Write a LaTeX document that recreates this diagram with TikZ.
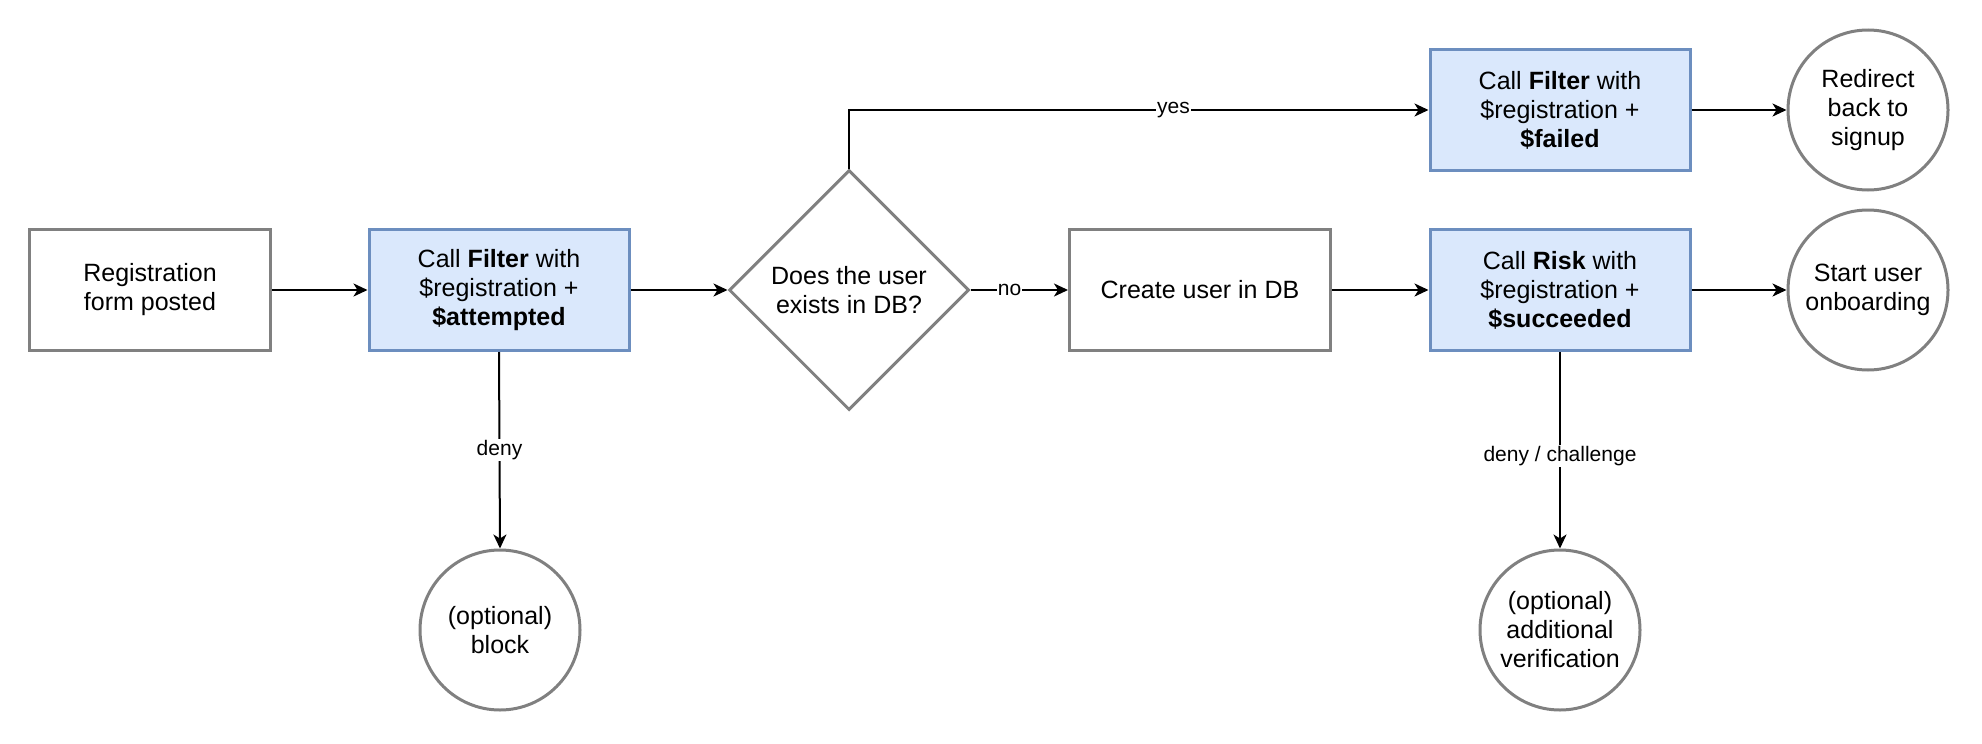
\documentclass[tikz,border=0pt]{standalone}
\usepackage{fontspec}
\setmainfont{Liberation Sans}
\usepackage{xcolor}
\usetikzlibrary{arrows.meta,positioning,shapes.geometric}
\definecolor{edgegrey}{RGB}{128,128,128}
\definecolor{callfill}{RGB}{218,232,252}
\definecolor{calldraw}{RGB}{108,142,191}
\tikzset{
  stepbox/.style={draw=edgegrey,line width=3pt,fill=white,align=center,
                  minimum width=241,minimum height=121,inner sep=4pt,
                  font=\fontsize{25}{29}\selectfont},
  callbox/.style={stepbox,draw=calldraw,fill=callfill,minimum width=260},
  ask/.style={draw=edgegrey,line width=3pt,fill=white,diamond,aspect=1,
              minimum width=240,minimum height=240,inner sep=0pt,align=center,
              font=\fontsize{25}{29}\selectfont},
  term/.style={draw=edgegrey,line width=3pt,fill=white,circle,minimum size=160,
               inner sep=0pt,align=center,font=\fontsize{25}{29}\selectfont},
  flow/.style={-{Stealth[length=14pt,width=13pt,inset=4pt]},line width=2pt,draw=black},
  lbl/.style={font=\fontsize{21}{25}\selectfont,inner sep=1pt,fill=white},
}
\begin{document}
\begin{tikzpicture}[x=1pt,y=-1pt]
  \useasboundingbox (0,0) rectangle (1982,744);

  % --- main row -----------------------------------------------------------
  \node[stepbox] (form) at (150,290) {Registration\\form posted};
  \node[callbox] (filt) at (499,290)
        {Call \textbf{Filter} with\\\$registration +\\\textbf{\$attempted}};
  \node[ask]     (exists) at (849,290) {Does the user\\exists in DB?};
  \node[stepbox,minimum width=261] (create) at (1200,290) {Create user in DB};
  \node[callbox] (risk) at (1560,290)
        {Call \textbf{Risk} with\\\$registration +\\\textbf{\$succeeded}};
  \node[term]    (onboard) at (1868,290) {Start user\\onboarding};

  % --- upper row ----------------------------------------------------------
  \node[callbox] (failed) at (1560,110)
        {Call \textbf{Filter} with\\\$registration +\\\textbf{\$failed}};
  \node[term]    (redirect) at (1868,110) {Redirect\\back to\\signup};

  % --- lower row ----------------------------------------------------------
  \node[term] (block)  at (500,630)  {(optional)\\block};
  \node[term] (verify) at (1560,630) {(optional)\\additional\\verification};

  % --- connectors ---------------------------------------------------------
  \draw[flow] (form.east) -- (filt.west);
  \draw[flow] (filt.east) -- (exists.west);
  \draw[flow] (exists.east) -- (create.west) node[lbl,pos=0.4]{no};
  \draw[flow] (exists.north) |- (failed.west) node[lbl,pos=0.78]{yes};
  \draw[flow] (create.east) -- (risk.west);
  \draw[flow] (risk.east) -- (onboard.west);
  \draw[flow] (failed.east) -- (redirect.west);
  \draw[flow] (filt.south) -- (block.north) node[lbl,midway]{deny};
  \draw[flow] (risk.south) -- (verify.north) node[lbl,pos=0.53]{deny / challenge};
\end{tikzpicture}
\end{document}
